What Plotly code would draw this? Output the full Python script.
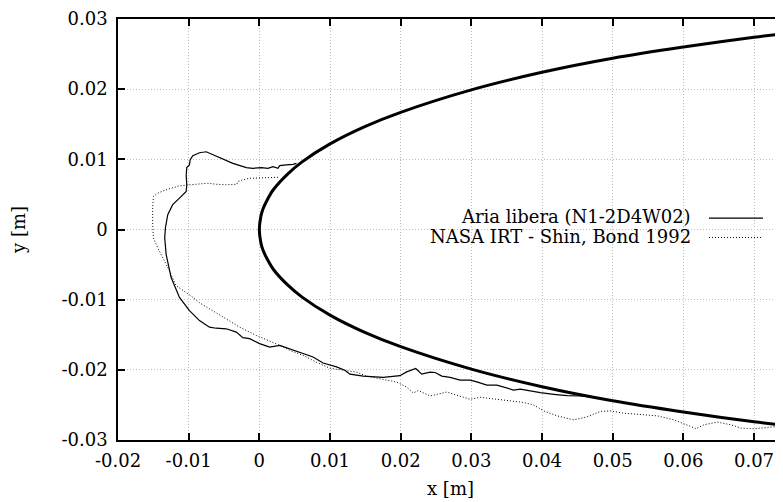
import plotly.graph_objects as go

# ---------------- data ----------------
body_x = [0.075, 0.07, 0.06, 0.05, 0.04, 0.03, 0.02, 0.015, 0.01, 0.006, 0.004, 0.002, 0.001, 0.0005, 0.0002, 0.0,
          0.0002, 0.0005, 0.001, 0.002, 0.004, 0.006, 0.01, 0.015, 0.02, 0.03, 0.04, 0.05, 0.06, 0.07, 0.075]
body_y = [0.0280, 0.0274, 0.0260, 0.0244, 0.0224, 0.0199, 0.0167, 0.0147, 0.0122, 0.0096, 0.0079, 0.0057, 0.0040, 0.0029, 0.0018, 0.0,
          -0.0018, -0.0029, -0.0040, -0.0057, -0.0079, -0.0096, -0.0122, -0.0147, -0.0167, -0.0199, -0.0224, -0.0244, -0.0260, -0.0274, -0.0280]

free_x = [0.00525, 0.00477, 0.00383, 0.00288, 0.00264, 0.00193, 0.00122, 0.00028, -0.00091, -0.00184, -0.00374,
          -0.00563, -0.00752, -0.00847, -0.00942, -0.00979, -0.00989, -0.01027, -0.01035, -0.01027, -0.01035,
          -0.01130, -0.01226, -0.01296, -0.01329, -0.01339, -0.01319, -0.01248, -0.01130, -0.00989, -0.00847,
          -0.00705, -0.00610, -0.00468, -0.00326, -0.00233, -0.00138, 0.00004, 0.00146, 0.00288, 0.00430,
          0.00618, 0.00760, 0.00902, 0.01092, 0.01210, 0.01281, 0.01470, 0.01753, 0.01990, 0.02085, 0.02213,
          0.02298, 0.02416, 0.02487, 0.02582, 0.02699, 0.02841, 0.02983, 0.03078, 0.03220, 0.03362, 0.03479,
          0.03597, 0.03692, 0.03834, 0.03976, 0.04165, 0.04355, 0.04543, 0.04827]
free_y = [0.00942, 0.00928, 0.00920, 0.00910, 0.00872, 0.00896, 0.00872, 0.00882, 0.00872, 0.00882, 0.00942,
          0.01027, 0.01108, 0.01094, 0.01051, 0.00991, 0.00920, 0.00882, 0.00778, 0.00637, 0.00542,
          0.00447, 0.00354, 0.00212, 0.00023, -0.00119, -0.00354, -0.00685, -0.00968, -0.01156, -0.01298,
          -0.01392, -0.01407, -0.01415, -0.01463, -0.01542, -0.01556, -0.01627, -0.01675, -0.01651, -0.01698,
          -0.01769, -0.01817, -0.01902, -0.01958, -0.02005, -0.02062, -0.02090, -0.02108, -0.02083, -0.02029, -0.01981,
          -0.02062, -0.02033, -0.02038, -0.02090, -0.02108, -0.02147, -0.02147, -0.02171, -0.02217, -0.02217, -0.02256,
          -0.02288, -0.02274, -0.02302, -0.02326, -0.02349, -0.02369, -0.02373, -0.02401]

irt_x = [0.00264, 0.00051, -0.00138, -0.00233, -0.00304, -0.00318, -0.00468, -0.00610, -0.00729, -0.00894,
         -0.01035, -0.01130, -0.01319, -0.01438, -0.01499, -0.01509, -0.01509, -0.01499, -0.01438, -0.01367,
         -0.01272, -0.01177, -0.00989, -0.00847, -0.00658, -0.00468, -0.00279, -0.00043, 0.00146, 0.00288,
         0.00430, 0.00618, 0.00809, 0.00997, 0.01186, 0.01376, 0.01518, 0.01753, 0.01943, 0.02085, 0.02179,
         0.02250, 0.02416, 0.02652, 0.02841, 0.02983, 0.03124, 0.03409, 0.03739, 0.03881, 0.04023, 0.04213,
         0.04448, 0.04638, 0.04827, 0.04969, 0.05157, 0.05631, 0.05867, 0.06104, 0.06175, 0.06292, 0.06482,
         0.06671, 0.06813, 0.07001, 0.07238, 0.07423]
irt_y = [0.00744, 0.00740, 0.00730, 0.00708, 0.00683, 0.00645, 0.00637, 0.00645, 0.00659, 0.00645,
         0.00637, 0.00623, 0.00566, 0.00518, 0.00471, 0.00306, 0.00071, -0.00119, -0.00260, -0.00392,
         -0.00590, -0.00802, -0.00930, -0.01043, -0.01156, -0.01274, -0.01392, -0.01510, -0.01590, -0.01651,
         -0.01722, -0.01793, -0.01892, -0.01977, -0.02005, -0.02033, -0.02090, -0.02132, -0.02174, -0.02246, -0.02330,
         -0.02295, -0.02373, -0.02316, -0.02380, -0.02420, -0.02391, -0.02423, -0.02465, -0.02500, -0.02585, -0.02656,
         -0.02713, -0.02670, -0.02592, -0.02585, -0.02618, -0.02656, -0.02713, -0.02807, -0.02840, -0.02783, -0.02745,
         -0.02783, -0.02830, -0.02840, -0.02822, -0.02798]

x_ticks = [-0.02, -0.01, 0, 0.01, 0.02, 0.03, 0.04, 0.05, 0.06, 0.07]
x_ticklabels = ["-0.02", "-0.01", "0", "0.01", "0.02", "0.03", "0.04", "0.05", "0.06", "0.07"]
y_ticks = [-0.03, -0.02, -0.01, 0, 0.01, 0.02, 0.03]
y_ticklabels = ["-0.03", "-0.02", "-0.01", "0", "0.01", "0.02", "0.03"]

series_names = ["Aria libera (N1-2D4W02)", "NASA IRT - Shin, Bond 1992"]

FONT = "DejaVu Serif"
FS = 18
DOTS = "1px,2px"

fig = go.Figure()
fig.add_trace(go.Scatter(x=free_x, y=free_y, mode="lines", name=series_names[0],
                         line=dict(color="black", width=1.2), showlegend=False))
fig.add_trace(go.Scatter(x=irt_x, y=irt_y, mode="lines", name=series_names[1],
                         line=dict(color="black", width=1, dash=DOTS), showlegend=False))
fig.add_trace(go.Scatter(x=body_x, y=body_y, mode="lines", name="body",
                         line=dict(color="black", width=3, shape="spline"), showlegend=False))

axis_common = dict(
    showgrid=True, gridcolor="#bdbdbd", griddash=DOTS, gridwidth=1,
    showline=True, linecolor="black", linewidth=1.5,
    ticks="inside", ticklen=7, tickcolor="black", tickwidth=1.5,
    zeroline=False, tickfont=dict(family=FONT, size=FS, color="black"),
    ticklabeloverflow="allow",
)

fig.update_xaxes(range=[-0.0200001, 0.0741], tickvals=x_ticks, ticktext=x_ticklabels, mirror="ticks",
                 ticklabelstandoff=4,
                 title=dict(text="x [m]", font=dict(family=FONT, size=FS, color="black"), standoff=12),
                 **axis_common)
fig.update_yaxes(range=[-0.0300001, 0.0300001], tickvals=y_ticks, ticktext=y_ticklabels, mirror=False,
                 ticklabelstandoff=5,
                 title=dict(text="y [m]", font=dict(family=FONT, size=FS, color="black"), standoff=31),
                 **axis_common)

# gnuplot-style key: text right-aligned, sample line to the right
key_rows = [(0.5318, 0.5271, "solid"), (0.4823, 0.4811, DOTS)]
for name, (yt, yl, dash) in zip(series_names, key_rows):
    fig.add_annotation(xref="paper", yref="paper", x=0.8647, y=yt, text=name, showarrow=False,
                       xanchor="right", yanchor="middle",
                       font=dict(family=FONT, size=FS, color="black"))
    fig.add_shape(type="line", xref="paper", yref="paper", x0=0.8887, x1=0.9699, y0=yl, y1=yl,
                  line=dict(color="black", width=1.2 if dash == "solid" else 1, dash=dash))

# page body has an 8px default margin, so size/margins compensate for it
fig.update_layout(
    width=775, height=494,
    margin=dict(l=110, r=0, t=8, b=62),
    plot_bgcolor="white", paper_bgcolor="white",
    showlegend=False,
)

fig.write_html("out.html")
